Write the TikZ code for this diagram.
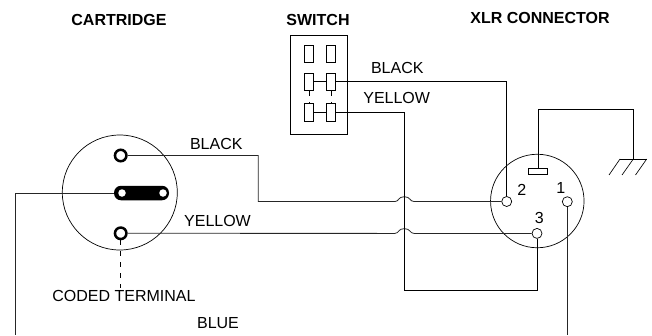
\documentclass[tikz,border=0pt]{standalone}
\usepackage{fontspec}
\setmainfont{Liberation Sans}
\tikzset{wire/.style={line width=0.8pt, black!85}}
\tikzset{thin wire/.style={line width=0.65pt, black}}
\tikzset{dashwire/.style={line width=0.6pt, dash pattern=on 5pt off 6pt}}
\tikzset{body/.style={circle, draw, line width=0.7pt, inner sep=0pt}}
\tikzset{pin/.style={circle, draw, line width=0.7pt, fill=white, inner sep=0pt, minimum size=10pt}}
\tikzset{fatpin/.style={circle, draw, line width=2.5pt, fill=white, inner sep=0pt, minimum size=11.5pt}}
\tikzset{hole/.style={circle, fill=white, inner sep=0pt, minimum size=7.5pt}}
\tikzset{contact/.style={rectangle, draw, line width=0.7pt, inner sep=0pt, minimum width=9pt, minimum height=17.5pt}}
\tikzset{txt/.style={inner sep=0pt, font=\fontsize{16}{16}\selectfont}}
\tikzset{head/.style={inner sep=0pt, font=\fontsize{16}{16}\selectfont\bfseries}}
\begin{document}
\begin{tikzpicture}[x=1pt,y=-1pt]
  \useasboundingbox (0,0) rectangle (652,335);

  % headings
  \node (cartridgehead) at (119,19.5)[head]{CARTRIDGE};
  \node (switchhead) at (318,19.5)[head]{SWITCH};
  \node (xlrhead) at (540,17.5)[head]{XLR CONNECTOR};

  % cartridge
  \node (cartridge) at (119.8,192.5)[body, minimum size=115pt]{};
  \node (slot) at (141.5,193)[rectangle, fill=black, rounded corners=7pt, inner sep=0pt, minimum width=55pt, minimum height=14.5pt]{};
  \node (blue) at (122,193)[hole]{};
  \node (slothole) at (163,193)[hole]{};
  \node (black) at (120.7,155.5)[fatpin]{};
  \node (yellow) at (120.7,233.3)[fatpin]{};

  % switch
  \node (switch) at (319,84.5)[rectangle, draw, line width=0.8pt, inner sep=0pt, minimum width=56.5pt, minimum height=99pt]{};
  \node (c1) at (308.8,53.7)[contact]{};
  \node (c2) at (331.2,53.7)[contact]{};
  \node (c3) at (308.8,81.7)[contact]{};
  \node (c4) at (331.2,81.7)[contact]{};
  \node (c5) at (308.8,112.5)[contact]{};
  \node (c6) at (331.2,112.5)[contact]{};

  % xlr connector
  \node (xlr) at (537.3,201)[body, minimum size=93.5pt]{};
  \node (p2) at (506.7,201.5)[pin]{};
  \node (p1) at (567.3,201.7)[pin]{};
  \node (p3) at (537,233.4)[pin]{};
  \node (shell) at (538,171.5)[rectangle, draw, line width=0.7pt, inner sep=0pt, minimum width=19.5pt, minimum height=6.5pt]{};
  \node (num2) at (521.7,190)[txt]{2};
  \node (num1) at (560.7,188)[txt]{1};
  \node (num3) at (539.3,218)[txt]{3};

  % wire corners
  \coordinate (b1) at (258.3,155.5);
  \coordinate (b2) at (258.3,201.5);
  \coordinate (b3) at (395,201.5);
  \coordinate (b4) at (414,201.5);
  \coordinate (y3) at (395,233.4);
  \coordinate (y4) at (414,233.4);
  \coordinate (s1) at (506.7,81.7);
  \coordinate (s2) at (404.3,112.5);
  \coordinate (s3) at (404.3,290.7);
  \coordinate (s4) at (537,290.7);
  \coordinate (g1) at (538,109.3);
  \coordinate (g2) at (633.3,109.3);
  \coordinate (g3) at (633.3,159);
  \coordinate (g4) at (620,159);
  \coordinate (g5) at (646.7,159);
  \coordinate (g6) at (609,175);
  \coordinate (g7) at (622,175);
  \coordinate (g8) at (635.5,175);
  \coordinate (endblue) at (15.3,335);
  \coordinate (bluecorner) at (15.3,193);
  \coordinate (endone) at (567.3,335);
  \coordinate (codedend) at (120.7,288);

  % wires
  \draw[wire] (black) -- (b1) -- (b2) -- (b3) .. controls (399,201.5) and (398,196.7) .. (404.3,196.7) .. controls (410.6,196.7) and (409.5,201.5) .. (b4) -- (p2);
  \draw[wire] (yellow) -- (y3) .. controls (399,233.4) and (398,228.6) .. (404.3,228.6) .. controls (410.6,228.6) and (409.5,233.4) .. (y4) -- (p3);
  \draw[wire] (slot.west) -- (bluecorner) -- (endblue);
  \draw[wire] (p1) -- (endone);
  \draw[thin wire] (c3) -- (c4);
  \draw[thin wire] (c5) -- (c6);
  \draw[thin wire] (c4) -- (s1) -- (p2);
  \draw[thin wire] (c6) -- (s2) -- (s3) -- (s4) -- (p3);
  \draw[thin wire] (shell) -- (g1) -- (g2) -- (g3);
  \draw[thin wire] (g4) -- (g5);
  \draw[thin wire] (g4) -- (g6);
  \draw[thin wire] (g3) -- (g7);
  \draw[thin wire] (g5) -- (g8);
  \draw[dashwire] (yellow) -- (codedend);
  \draw[dashwire] (c3) -- (c5);
  \draw[dashwire] (c4) -- (c6);

  % wire labels
  \node (labelblack) at (216.3,143.5)[txt]{BLACK};
  \node (labelyellow) at (217.5,221)[txt]{YELLOW};
  \node (switchblack) at (397.3,67.5)[txt]{BLACK};
  \node (switchyellow) at (396.7,98)[txt]{YELLOW};
  \node (coded) at (124,295.7)[txt]{CODED TERMINAL};
  \node (labelblue) at (218,323)[txt]{BLUE};
\end{tikzpicture}
\end{document}
